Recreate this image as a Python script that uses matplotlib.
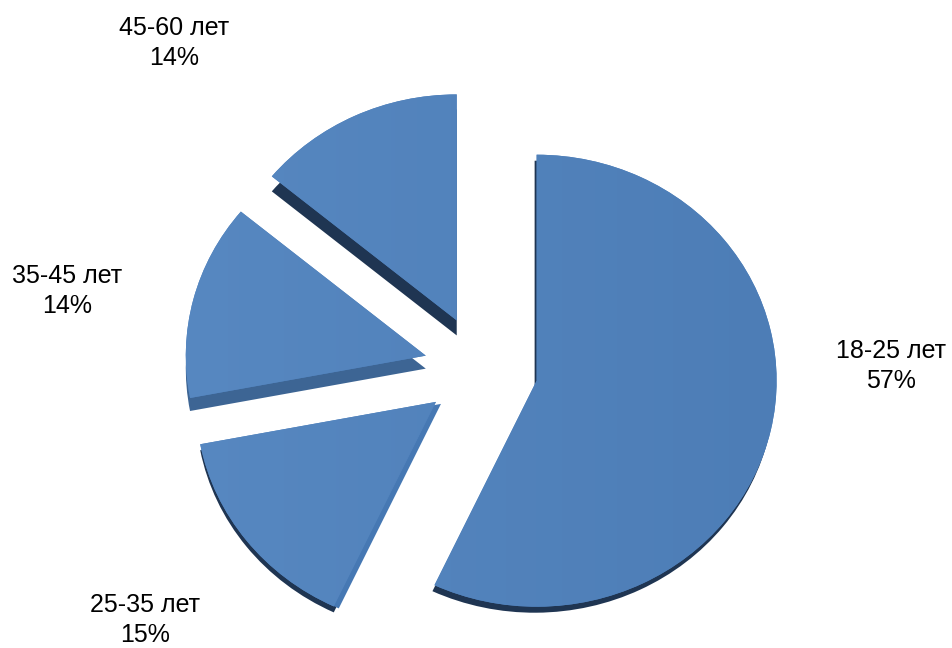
import numpy as np
import matplotlib
matplotlib.use('Agg')
import matplotlib.pyplot as plt
from matplotlib.patches import Wedge
from matplotlib.colors import LinearSegmentedColormap
from matplotlib.transforms import Affine2D

# age groups and their shares (%)
groups = ['18-25 лет', '25-35 лет', '35-45 лет', '45-60 лет']
shares = [57, 15, 14, 14]

# label block centres, in pixels from the top-left corner
label_pos = [(891, 366), (145, 620), (67, 291), (174, 43)]

# side walls under each slice: (dx px, dy px, colour), drawn bottom-up
sides = [
    [(-2, -6, '#1f3552')],
    [(0, -6, '#1f3552'), (5, -2, '#4678b3')],
    [(0, -13, '#3d6594')],
    [(0, -15, '#1f3552')],
]

W, H = 953, 648
fig = plt.figure(figsize=(W / 100, H / 100), dpi=100)
ax = fig.add_axes([0, 0, 1, 1])

wedges, _ = ax.pie(shares, explode=[0.2375] * len(shares), startangle=90,
                   counterclock=False, radius=1, colors=['#4f81bd'] * len(shares),
                   wedgeprops=dict(linewidth=0, zorder=3))

# slightly flattened view, like a tilted 3-D pie
ax.set_aspect('auto')
ax.set_xlim(-481 / 240, (W - 481) / 240)
ax.set_ylim(-(H - 369) / 226, 369 / 226)
ax.axis('off')

# thickness of each slice
for w, layers in zip(wedges, sides):
    for i, (dx, dy, col) in enumerate(layers):
        side = Wedge(w.center, w.r, w.theta1, w.theta2, facecolor=col,
                     linewidth=0, zorder=1 + i * 0.1,
                     transform=ax.transData + Affine2D().translate(dx, dy))
        ax.add_patch(side)

# soft left-to-right shading on the top faces
cmap = LinearSegmentedColormap.from_list('face', ['#5a8bc4', '#4a7ab3'])
grad = np.linspace(0, 1, 256).reshape(1, -1)
x0, x1 = ax.get_xlim()
y0, y1 = ax.get_ylim()
for w in wedges:
    im = ax.imshow(grad, cmap=cmap, extent=(x0, x1, y0, y1), aspect='auto',
                   zorder=4, interpolation='bilinear')
    im.set_clip_path(w)
ax.set_xlim(x0, x1)
ax.set_ylim(y0, y1)

for name, val, (px, py) in zip(groups, shares, label_pos):
    ax.text(px / W, 1 - py / H, f'{name}\n{val}%', transform=ax.transAxes,
            ha='center', va='center', multialignment='center',
            fontsize=18, family='Liberation Sans', color='black', linespacing=1.3)

fig.savefig('out.png', dpi=100)
